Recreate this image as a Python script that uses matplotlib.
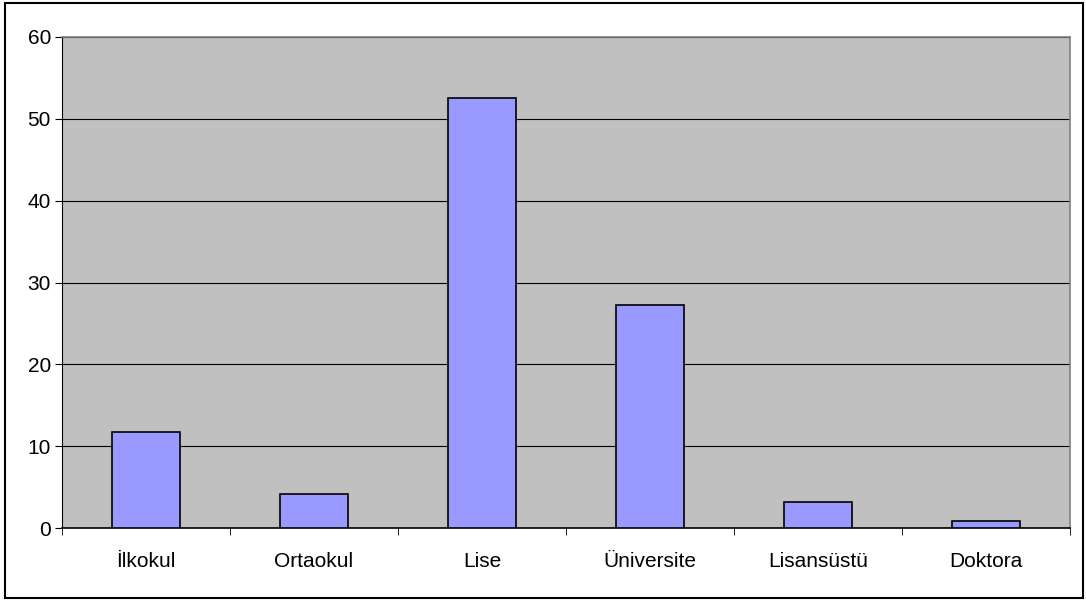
import matplotlib
matplotlib.use('Agg')
import matplotlib.pyplot as plt
import numpy as np
from matplotlib.patches import Rectangle

# education level shares (%)
levels = ['İlkokul', 'Ortaokul', 'Lise', 'Üniversite', 'Lisansüstü', 'Doktora']
values = [11.7, 4.2, 52.5, 27.2, 3.2, 0.85]
yticks = [0, 10, 20, 30, 40, 50, 60]

plt.rcParams['font.family'] = ['Liberation Sans', 'DejaVu Sans']

fig = plt.figure(figsize=(10.86, 6.0), dpi=100)
ax = fig.add_axes([62 / 1086, 72 / 600, 1008 / 1086, 491 / 600])
ax.set_facecolor('#C0C0C0')

x = np.arange(len(levels))
ax.bar(x, values, width=0.4, color='#9999FF', edgecolor='black', linewidth=1.2, zorder=3)

ax.set_xlim(-0.5, len(levels) - 0.5)
ax.set_ylim(0, 60)
ax.set_yticks(yticks)
ax.yaxis.grid(True, color='black', linewidth=0.8, zorder=1)
ax.set_axisbelow(True)

ax.set_xticks(x)
ax.set_xticklabels(levels, fontsize=15)
ax.set_xticks(np.arange(len(levels) + 1) - 0.5, minor=True)
ax.tick_params(axis='x', which='major', length=0, pad=17)
ax.tick_params(axis='x', which='minor', length=5, direction='out', color='black')
ax.tick_params(axis='y', length=5, direction='out', labelsize=15, pad=3)

for side in ['top', 'right']:
    ax.spines[side].set_color('#808080')
    ax.spines[side].set_linewidth(1.2)
ax.spines['left'].set_color('black')
ax.spines['bottom'].set_color('black')
ax.spines['bottom'].set_linewidth(1.2)

# outer chart border
fig.patches.append(Rectangle((5 / 1086, 2 / 600), 1078 / 1086, 595 / 600,
                             transform=fig.transFigure, fill=False,
                             edgecolor='black', linewidth=1.5))

plt.savefig('out.png', dpi=100)
